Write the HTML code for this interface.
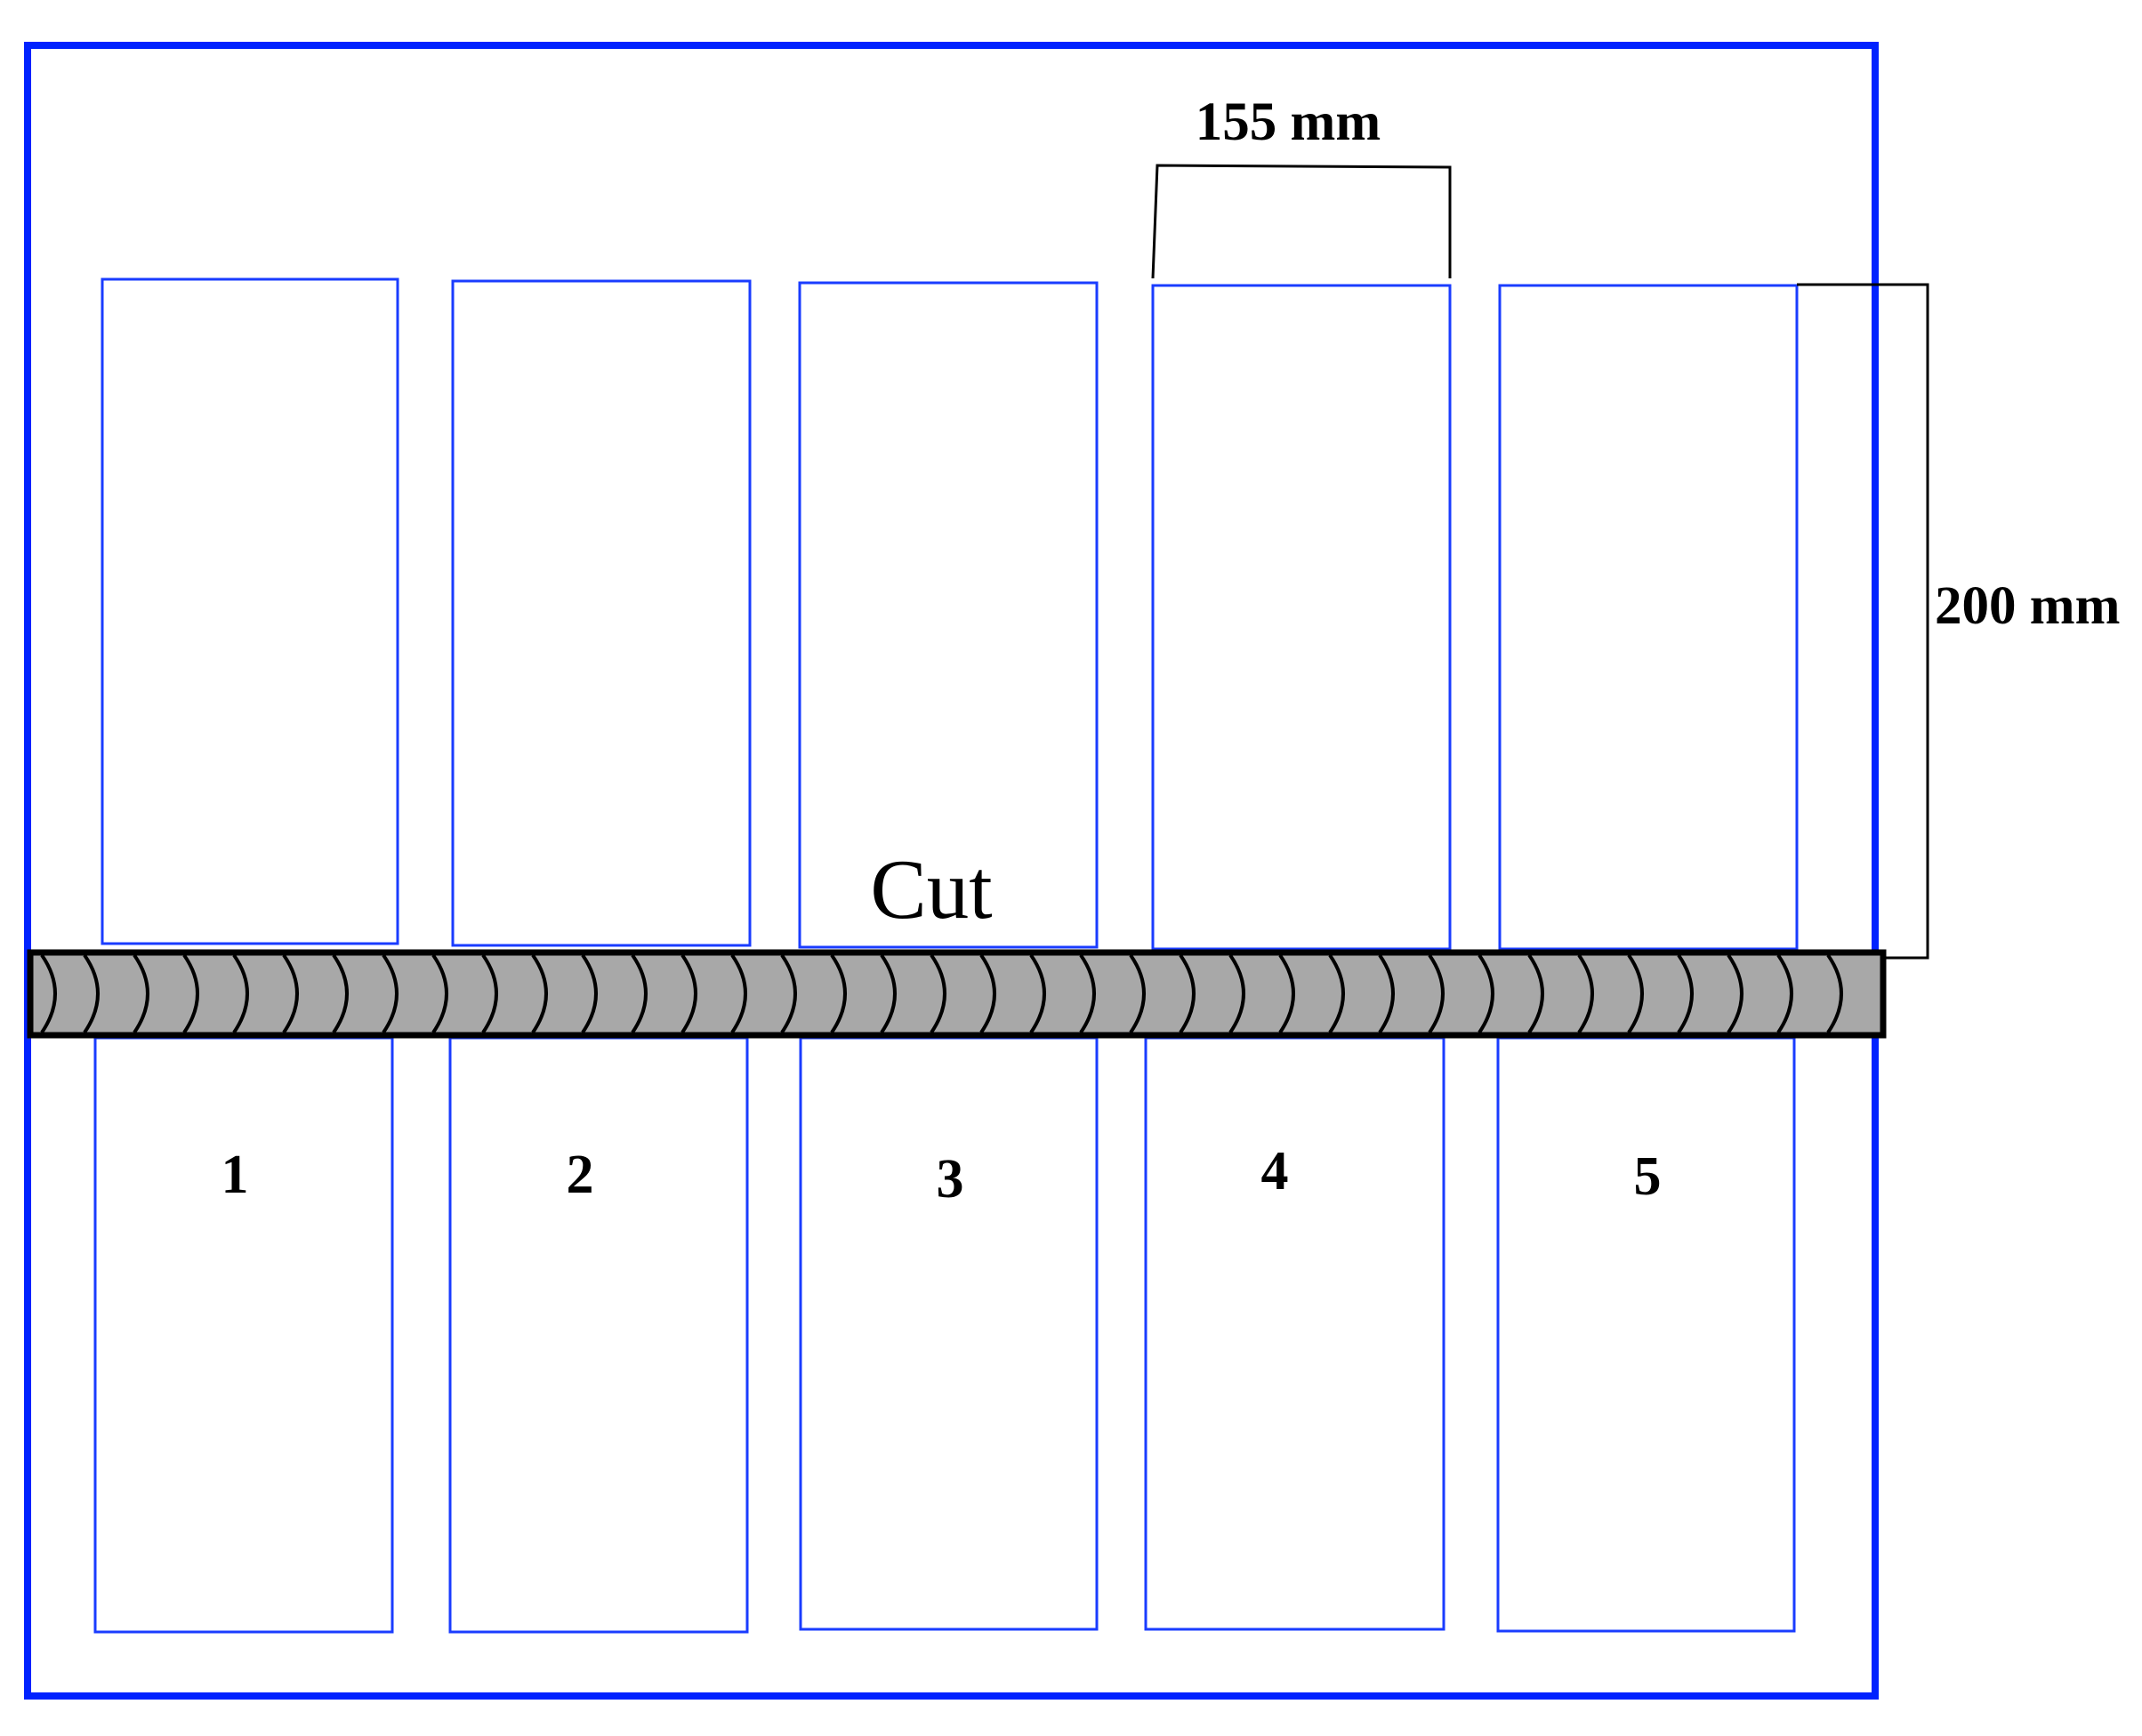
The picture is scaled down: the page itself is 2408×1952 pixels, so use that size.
<!DOCTYPE html>
<html><head><meta charset="utf-8"><style>
html,body{margin:0;padding:0;background:#fff;}
svg{display:block;}
</style></head><body>
<svg width="2408" height="1952" viewBox="0 0 2408 1952" xmlns="http://www.w3.org/2000/svg">
<rect x="0" y="0" width="2408" height="1952" fill="#fff"/>
<rect x="31" y="51" width="2077" height="1856" fill="none" stroke="#0022ff" stroke-width="8"/>
<g fill="none" stroke="#1a3cff" stroke-width="3">
<rect x="115" y="314" width="332" height="747"/>
<rect x="509" y="316" width="334" height="747"/>
<rect x="899" y="318" width="334" height="747"/>
<rect x="1296" y="321" width="334" height="746"/>
<rect x="1686" y="321" width="334" height="746"/>
<rect x="107" y="1167" width="334" height="668"/>
<rect x="506" y="1167" width="334" height="668"/>
<rect x="900" y="1167" width="333" height="665"/>
<rect x="1288" y="1167" width="335" height="665"/>
<rect x="1684" y="1167" width="333" height="667"/>
</g>
<rect x="34" y="1071" width="2083" height="93" fill="#a8a8a8" stroke="#000" stroke-width="7"/>
<g fill="none" stroke="#000" stroke-width="4">
<path d="M47,1074 Q77,1117 47,1161"/>
<path d="M95,1074 Q125,1117 95,1161"/>
<path d="M151,1074 Q181,1117 151,1161"/>
<path d="M207,1074 Q237,1117 207,1161"/>
<path d="M263,1074 Q293,1117 263,1161"/>
<path d="M319,1074 Q349,1117 319,1161"/>
<path d="M375,1074 Q405,1117 375,1161"/>
<path d="M431,1074 Q461,1117 431,1161"/>
<path d="M487,1074 Q517,1117 487,1161"/>
<path d="M543,1074 Q573,1117 543,1161"/>
<path d="M599,1074 Q629,1117 599,1161"/>
<path d="M655,1074 Q685,1117 655,1161"/>
<path d="M711,1074 Q741,1117 711,1161"/>
<path d="M767,1074 Q797,1117 767,1161"/>
<path d="M823,1074 Q853,1117 823,1161"/>
<path d="M879,1074 Q909,1117 879,1161"/>
<path d="M935,1074 Q965,1117 935,1161"/>
<path d="M991,1074 Q1021,1117 991,1161"/>
<path d="M1047,1074 Q1077,1117 1047,1161"/>
<path d="M1103,1074 Q1133,1117 1103,1161"/>
<path d="M1159,1074 Q1189,1117 1159,1161"/>
<path d="M1215,1074 Q1245,1117 1215,1161"/>
<path d="M1271,1074 Q1301,1117 1271,1161"/>
<path d="M1327,1074 Q1357,1117 1327,1161"/>
<path d="M1383,1074 Q1413,1117 1383,1161"/>
<path d="M1439,1074 Q1469,1117 1439,1161"/>
<path d="M1495,1074 Q1525,1117 1495,1161"/>
<path d="M1551,1074 Q1581,1117 1551,1161"/>
<path d="M1607,1074 Q1637,1117 1607,1161"/>
<path d="M1663,1074 Q1693,1117 1663,1161"/>
<path d="M1719,1074 Q1749,1117 1719,1161"/>
<path d="M1775,1074 Q1805,1117 1775,1161"/>
<path d="M1831,1074 Q1861,1117 1831,1161"/>
<path d="M1887,1074 Q1917,1117 1887,1161"/>
<path d="M1943,1074 Q1973,1117 1943,1161"/>
<path d="M1999,1074 Q2029,1117 1999,1161"/>
<path d="M2055,1074 Q2085,1117 2055,1161"/>
</g>
<g fill="none" stroke="#000" stroke-width="3">
<path d="M1296,313 L1301,186 L1630,188 L1630,313"/>
<path d="M2020,320 L2167,320 L2167,1077 L2120,1077"/>
</g>
<g font-family="'Liberation Serif',serif" fill="#000">
<text x="1448" y="157" font-size="61" font-weight="bold" text-anchor="middle">155 mm</text>
<text x="2175" y="701" font-size="61" font-weight="bold">200 mm</text>
<text x="1047" y="1032" font-size="95" text-anchor="middle">Cut</text>
<g font-size="62" font-weight="bold" text-anchor="middle">
<text x="264" y="1341">1</text>
<text x="652" y="1341">2</text>
<text x="1068" y="1346">3</text>
<text x="1433" y="1337">4</text>
<text x="1852" y="1343">5</text>
</g>
</g>
</svg>
</body></html>
